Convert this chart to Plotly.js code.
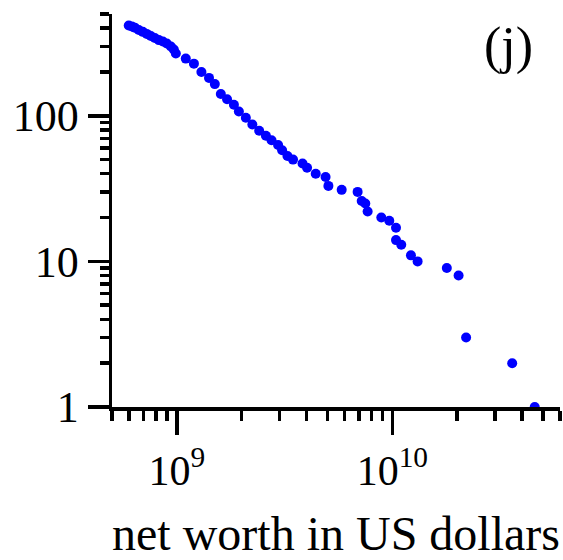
<!DOCTYPE html>
<html>
<head>
<meta charset="utf-8">
<script src="https://cdn.plot.ly/plotly-3.0.1.min.js"></script>
<style>html,body{margin:0;padding:0;background:#fff;}#chart{width:563px;height:560px;}</style>
</head>
<body>
<div id="chart"></div>
<script>
// net worth (US dollars) and number of people with at least that net worth
var netWorth = [5.98e8, 6.18e8, 6.38e8, 6.66e8, 6.95e8, 7.25e8, 7.57e8, 7.90e8, 8.25e8, 8.61e8,
  8.98e8, 9.38e8, 9.68e8, 9.89e8, 1.10e9, 1.20e9, 1.30e9, 1.41e9, 1.50e9, 1.60e9,
  1.71e9, 1.84e9, 1.94e9, 2.09e9, 2.24e9, 2.41e9, 2.59e9, 2.75e9, 2.95e9, 3.08e9,
  3.26e9, 3.46e9, 3.83e9, 4.02e9, 4.41e9, 4.90e9, 5.05e9, 5.82e9, 6.90e9, 7.21e9,
  7.49e9, 7.68e9, 8.89e9, 9.68e9, 1.04e10, 1.04e10, 1.10e10, 1.22e10, 1.31e10, 1.79e10,
  2.03e10, 2.20e10, 3.60e10, 4.58e10];
var rank = [417, 411, 403, 388, 377, 365, 353, 342, 331, 324,
  314, 299, 285, 268, 247, 228, 200, 182, 165, 141,
  130, 119, 107, 97, 87, 79, 73, 68, 63, 58,
  53, 50, 47, 44, 40, 38, 33, 31, 30, 26,
  25, 22, 20, 19, 17, 14, 13, 11, 10, 9,
  8, 3, 2, 1];

var xMajor = [1e9, 1e10];
var xMajorText = ['10<sup>9</sup>', '10<sup>10</sup>'];
var xMinor = [5e8, 6e8, 7e8, 8e8, 9e8, 2e9, 3e9, 4e9, 5e9, 6e9, 7e9, 8e9, 9e9, 2e10, 3e10, 4e10, 5e10, 6e10];
var yMajor = [1, 10, 100];
var yMajorText = ['1', '10', '100'];
var yMinor = [2, 3, 4, 5, 6, 7, 8, 9, 20, 30, 40, 50, 60, 70, 80, 90, 200, 300, 400, 500];

var fontFam = 'Liberation Serif, serif';

var trace = {
  x: netWorth, y: rank, type: 'scatter', mode: 'markers',
  marker: {color: '#0000ff', size: 10, line: {width: 0}},
  hoverinfo: 'x+y'
};

var layout = {
  width: 563, height: 560,
  margin: {l: 112, r: 3, t: 14, b: 153},
  paper_bgcolor: '#fff', plot_bgcolor: '#fff',
  showlegend: false,
  font: {family: fontFam, color: '#000', size: 42},
  xaxis: {
    type: 'log', range: [Math.log10(5e8), Math.log10(6e10)],
    showline: true, linecolor: '#000', linewidth: 3.5,
    showgrid: false, zeroline: false,
    tickmode: 'array', tickvals: xMajor, ticktext: xMajorText,
    ticks: 'outside', ticklen: 24, tickwidth: 3.5, tickcolor: '#000',
    tickfont: {family: fontFam, size: 42, color: '#000'},
    minor: {tickmode: 'array', tickvals: xMinor, ticks: 'outside', ticklen: 10, tickwidth: 3.5, tickcolor: '#000', showgrid: false},
    title: {text: 'net worth in US dollars', font: {family: fontFam, size: 48, color: '#000'}, standoff: 27}
  },
  yaxis: {
    type: 'log', range: [0, Math.log10(500)],
    showline: true, linecolor: '#000', linewidth: 3.5,
    showgrid: false, zeroline: false,
    tickmode: 'array', tickvals: yMajor, ticktext: yMajorText,
    ticks: 'outside', ticklen: 21, tickwidth: 3.5, tickcolor: '#000',
    tickfont: {family: fontFam, size: 44, color: '#000'},
    minor: {tickmode: 'array', tickvals: yMinor, ticks: 'outside', ticklen: 9, tickwidth: 3.5, tickcolor: '#000', showgrid: false}
  },
  annotations: [{
    text: '(j)', xref: 'paper', yref: 'paper', x: 0.886, y: 0.918,
    xanchor: 'center', yanchor: 'middle', showarrow: false,
    font: {family: fontFam, size: 52, color: '#000'}
  }]
};

Plotly.newPlot('chart', [trace], layout, {displayModeBar: false, staticPlot: true});
</script>
</body>
</html>
